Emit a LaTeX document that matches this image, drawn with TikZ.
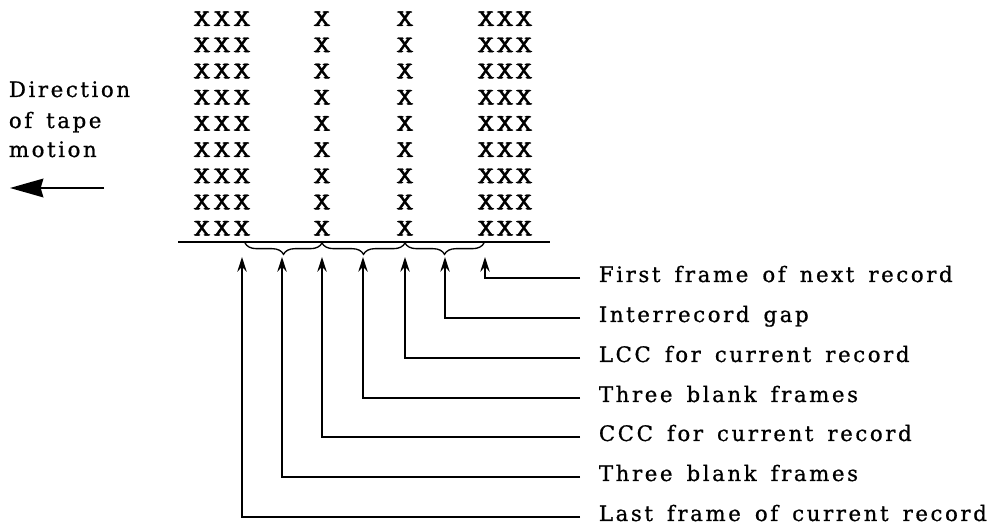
\documentclass[tikz,border=0pt]{standalone}
\usepackage{fontspec}
\usetikzlibrary{arrows.meta,decorations.pathreplacing}
\newfontfamily\labfont[LetterSpace=12,WordSpace=1.5,FakeBold=0.8]{DejaVu Serif}
\newfontfamily\markfont[FakeBold=1.4]{Latin Modern Mono}
\begin{document}
\begin{tikzpicture}[x=0.75pt,y=-0.75pt,line width=1.35pt,
  lab/.style={font={\labfont\fontsize{16}{19}\selectfont},anchor=base west,inner sep=0pt},
  xmark/.style={font={\markfont\fontsize{18}{20}\selectfont},xscale=1.45,transform shape,inner sep=0pt,anchor=base},
  pointer/.style={-{Stealth[length=11pt,width=7pt]}},
  tapebrace/.style={decorate,decoration={brace,mirror,amplitude=8.5pt},line width=1pt}]
\useasboundingbox (0,0) rectangle (1000,530);
% character grid
\foreach \r in {0,...,8}{
  \pgfmathsetmacro\yy{26+26.2*\r}
  \foreach \c/\xp in {a/202,b/222,c/242,d/322,e/405,f/486,g/505,h/524}
    \node[xmark] (x\c\r) at (\xp,\yy) {X};
}
% tape edge
\coordinate (tl) at (178,242);
\coordinate (tr) at (550,242);
\draw (tl) -- (tr);
% braces
\coordinate (b0) at (245,243);
\coordinate (b1) at (322,243);
\coordinate (b2) at (405,243);
\coordinate (b3) at (484,243);
\draw[tapebrace] (b0) -- (b1);
\draw[tapebrace] (b1) -- (b2);
\draw[tapebrace] (b2) -- (b3);
% labels and pointers
\foreach \i/\xa/\ly/\t in {0/242/517/Last frame of current record,
                           1/282/477/Three blank frames,
                           2/322/437/CCC for current record,
                           3/363/398/Three blank frames,
                           4/405/358/LCC for current record,
                           5/445/318/Interrecord gap,
                           6/485/278/First frame of next record}{
  \pgfmathsetmacro\ty{\ly+4}
  \node[lab] (l\i) at (598,\ty) {\t};
  \coordinate (s\i) at (580,\ly);
  \coordinate (p\i) at (\xa,257);
  \draw[pointer] (s\i) -| (p\i);
}
% direction of motion
\node[lab] (d0) at (8,97) {Direction};
\node[lab] (d1) at (8,128) {of tape};
\node[lab] (d2) at (8,157) {motion};
\coordinate (m1) at (104,188);
\coordinate (m0) at (10,188);
\draw[line width=1.5pt,-{Stealth[length=25pt,width=14pt,inset=2pt]}] (m1) -- (m0);
\end{tikzpicture}
\end{document}
